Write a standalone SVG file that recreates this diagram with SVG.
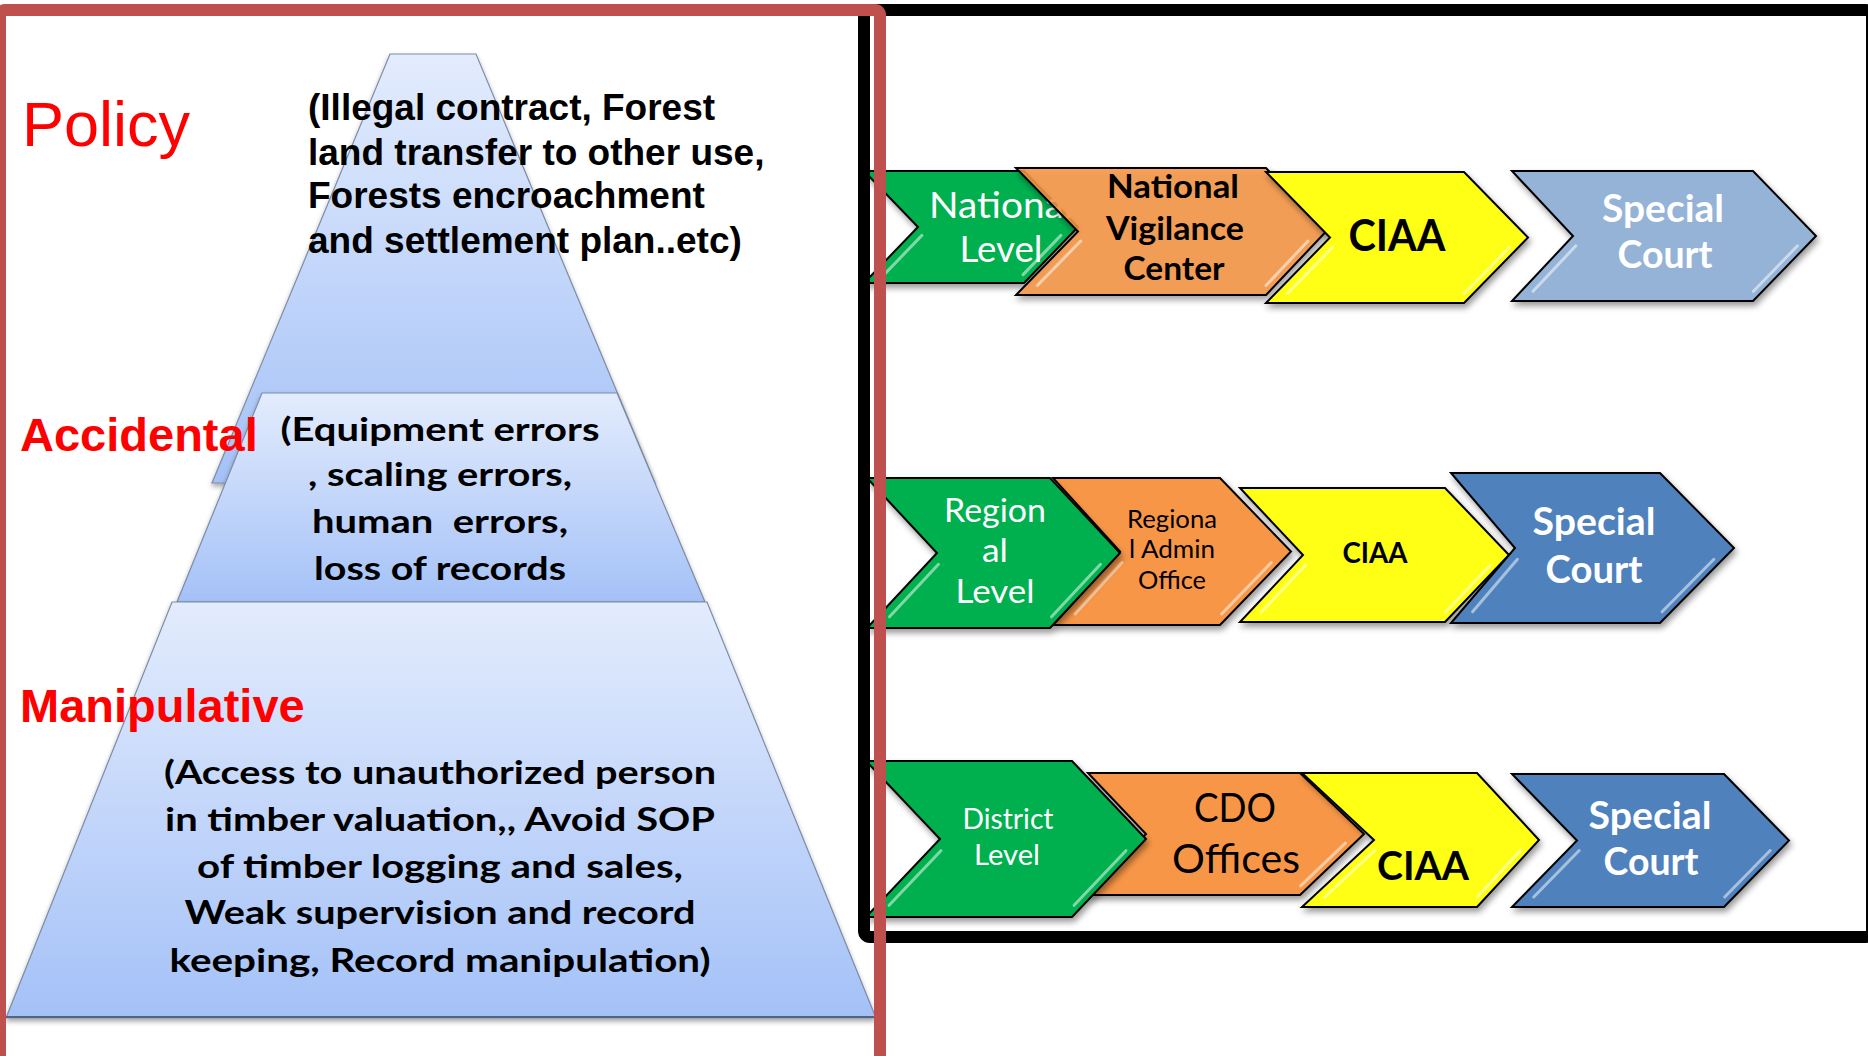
<svg xmlns="http://www.w3.org/2000/svg" width="1868" height="1056" viewBox="0 0 1868 1056">
<defs>
<linearGradient id="pg" x1="0" y1="0" x2="0" y2="1"><stop offset="0" stop-color="#e3ecfd"/><stop offset="1" stop-color="#a4c1f7"/></linearGradient>
<filter id="psh" x="-5%" y="-5%" width="110%" height="112%"><feDropShadow dx="0" dy="3" stdDeviation="2.5" flood-color="#000" flood-opacity="0.35"/></filter>
<filter id="sh" x="-10%" y="-10%" width="125%" height="135%"><feDropShadow dx="2" dy="4" stdDeviation="3" flood-color="#000" flood-opacity="0.4"/></filter>
<linearGradient id="gloss" x1="0" y1="0" x2="0" y2="1"><stop offset="0" stop-color="#fff" stop-opacity="0.18"/><stop offset="0.5" stop-color="#fff" stop-opacity="0"/></linearGradient>
</defs>
<style>
.tier{fill:url(#pg);stroke:#7d8ca6;stroke-width:1.2;filter:url(#psh)}
.chev{stroke:#000;stroke-width:2;stroke-linejoin:miter;filter:url(#sh)}
.g{fill:#00b050}.o{fill:#f79646}.o1{fill:#f79646;fill-opacity:0.86}.y{fill:#ffff14}.b1{fill:#95b3d7}.b2{fill:#4f81bd}
.hl{stroke:#fff;stroke-opacity:0.5;stroke-width:3;fill:none;stroke-linecap:round}
.red{fill:#ff0000;font-family:"Liberation Sans",Arial,sans-serif}
.ar{font-family:"Liberation Sans",Arial,sans-serif;font-weight:bold;font-size:37px;fill:#000}
.cb{font-family:Lato,"Open Sans",sans-serif;font-weight:bold;text-anchor:middle}
.cr{font-family:Lato,"Open Sans",sans-serif;font-weight:normal;text-anchor:middle}
.w{fill:#fff}.k{fill:#000}
</style>

<g id="pyramid">
<g id="tier-policy">
<polygon class="tier" points="390,54 476,54 655,483 212,483"/>
</g>
<g id="tier-accidental">
<polygon class="tier" points="262,393 617,393 705,602 177,602"/>
</g>
<g id="tier-manipulative">
<polygon class="tier" points="172,602 707,602 876,1018 6,1018"/>
<line x1="6" y1="1017" x2="876" y2="1017" stroke="#55657f" stroke-width="2"/>
</g>
</g>

<g id="label-policy">
<text class="red" x="22" y="146" font-size="63">Policy</text>
<text class="ar" x="308" y="120">(Illegal contract, Forest</text>
<text class="ar" x="308" y="165">land transfer to other use,</text>
<text class="ar" x="308" y="208">Forests encroachment</text>
<text class="ar" x="308" y="253">and settlement plan..etc)</text>
</g>
<g id="label-accidental">
<text class="red" x="20" y="451" font-size="47" font-weight="bold">Accidental</text>
<text class="cb k" x="440" y="441" font-size="33" textLength="319" lengthAdjust="spacingAndGlyphs">(Equipment errors</text>
<text class="cb k" x="440" y="486" font-size="33" textLength="264" lengthAdjust="spacingAndGlyphs">, scaling errors,</text>
<text class="cb k" x="440" y="533" font-size="33" textLength="256" lengthAdjust="spacingAndGlyphs" xml:space="preserve">human  errors,</text>
<text class="cb k" x="440" y="580" font-size="33" textLength="252" lengthAdjust="spacingAndGlyphs">loss of records</text>
</g>
<g id="label-manipulative">
<text class="red" x="20" y="722" font-size="47" font-weight="bold">Manipulative</text>
<text class="cb k" x="440" y="784" font-size="33" textLength="552" lengthAdjust="spacingAndGlyphs">(Access to unauthorized person</text>
<text class="cb k" x="440" y="831" font-size="33" textLength="550" lengthAdjust="spacingAndGlyphs">in timber valuation,, Avoid SOP</text>
<text class="cb k" x="440" y="878" font-size="33" textLength="486" lengthAdjust="spacingAndGlyphs">of timber logging and sales,</text>
<text class="cb k" x="440" y="924" font-size="33" textLength="511" lengthAdjust="spacingAndGlyphs">Weak supervision and record</text>
<text class="cb k" x="440" y="972" font-size="33" textLength="541" lengthAdjust="spacingAndGlyphs">keeping, Record manipulation)</text>
</g>

<g id="row-national">
<g id="national-level">
<polygon class="chev g" points="864,171 1024,171 1078,227 1024,283 864,283 918,227"/>
<line class="hl" x1="921.9" y1="235.4" x2="884.1" y2="274.6"/><line class="hl" x1="1060.9" y1="235.4" x2="1023.1" y2="274.6"/>
<text class="cr w" x="1001" y="218" font-size="36" textLength="144" lengthAdjust="spacingAndGlyphs">National</text>
<text class="cr w" x="1001" y="262" font-size="36" textLength="83" lengthAdjust="spacingAndGlyphs">Level</text>
</g>
<g id="national-vigilance-center">
<polygon class="chev o1" points="1016,168 1266,168 1326,231.5 1266,295 1016,295 1078,231.5"/>
<line class="hl" x1="1080.7" y1="241" x2="1037.3" y2="285.5"/><line class="hl" x1="1308" y1="241" x2="1266" y2="285.5"/>
<text class="cb k" x="1173" y="198" font-size="33" textLength="132" lengthAdjust="spacingAndGlyphs">National</text>
<text class="cb k" x="1175" y="240" font-size="33" textLength="138" lengthAdjust="spacingAndGlyphs">Vigilance</text>
<text class="cb k" x="1174" y="280" font-size="33" textLength="101" lengthAdjust="spacingAndGlyphs">Center</text>
</g>
<g id="ciaa-1">
<polygon class="chev y" points="1266,172 1464,172 1528,237.5 1464,303 1266,303 1330,237.5"/>
<line class="hl" x1="1332.4" y1="247.3" x2="1287.6" y2="293.2"/><line class="hl" x1="1509.4" y1="247.3" x2="1464.6" y2="293.2"/>
<text class="cb k" x="1397" y="251" font-size="43" textLength="97" lengthAdjust="spacingAndGlyphs">CIAA</text>
</g>
<g id="special-court-1">
<polygon class="chev b1" points="1512,171 1753,171 1816,236 1753,301 1512,301 1573,236"/>
<line class="hl" x1="1575.8" y1="245.8" x2="1533.1" y2="291.3"/><line class="hl" x1="1797.5" y1="245.8" x2="1753.4" y2="291.3"/>
<text class="cb w" x="1663" y="222" font-size="38" textLength="122" lengthAdjust="spacingAndGlyphs">Special</text>
<text class="cb w" x="1665" y="268" font-size="38" textLength="95" lengthAdjust="spacingAndGlyphs">Court</text>
</g>
</g>

<g id="row-regional">
<g id="regional-admin-office">
<polygon class="chev o" points="1053,478 1220,478 1291,551.5 1220,625 1053,625 1120,551.5"/>
<line class="hl" x1="1122" y1="562.5" x2="1075" y2="614"/><line class="hl" x1="1271.3" y1="562.5" x2="1221.6" y2="614"/>
<text class="cr k" x="1172" y="528" font-size="25" textLength="90" lengthAdjust="spacingAndGlyphs">Regiona</text>
<text class="cr k" x="1172" y="558" font-size="25" textLength="86" lengthAdjust="spacingAndGlyphs">l Admin</text>
<text class="cr k" x="1172" y="589" font-size="25" textLength="68" lengthAdjust="spacingAndGlyphs">Office</text>
</g>
<g id="regional-level">
<polygon class="chev g" points="867,478 1050,478 1120,553 1050,628 867,628 937,553"/>
<line class="hl" x1="938.5" y1="564.3" x2="889.5" y2="616.8"/><line class="hl" x1="1100.5" y1="564.3" x2="1051.5" y2="616.8"/>
<text class="cr w" x="995" y="522" font-size="33" textLength="102" lengthAdjust="spacingAndGlyphs">Region</text>
<text class="cr w" x="995" y="562" font-size="33" textLength="26" lengthAdjust="spacingAndGlyphs">al</text>
<text class="cr w" x="995" y="603" font-size="33" textLength="79" lengthAdjust="spacingAndGlyphs">Level</text>
</g>
<g id="ciaa-2">
<polygon class="chev y" points="1240,488 1445,488 1509,555 1445,622 1240,622 1303,555"/>
<line class="hl" x1="1305.5" y1="565" x2="1261.4" y2="612"/><line class="hl" x1="1490.4" y1="565" x2="1445.6" y2="612"/>
<text class="cb k" x="1375" y="563" font-size="29" textLength="65" lengthAdjust="spacingAndGlyphs">CIAA</text>
</g>
<g id="special-court-2">
<polygon class="chev b2" points="1451,473 1660,473 1734,548 1660,623 1451,623 1515,548"/>
<line class="hl" x1="1517.4" y1="559.3" x2="1472.6" y2="611.8"/><line class="hl" x1="1713.9" y1="559.3" x2="1662.1" y2="611.8"/>
<text class="cb w" x="1594" y="535" font-size="38" textLength="123" lengthAdjust="spacingAndGlyphs">Special</text>
<text class="cb w" x="1594" y="583" font-size="38" textLength="97" lengthAdjust="spacingAndGlyphs">Court</text>
</g>
</g>

<g id="row-district">
<g id="cdo-offices">
<polygon class="chev o" points="1088,773 1300,773 1364,834 1300,895 1088,895 1146,834"/>
<line class="hl" x1="1345.4" y1="843.2" x2="1300.6" y2="885.9"/>
<text class="cr k" x="1235" y="822" font-size="41" textLength="82" lengthAdjust="spacingAndGlyphs">CDO</text>
<text class="cr k" x="1236" y="873" font-size="41" textLength="128" lengthAdjust="spacingAndGlyphs">Offices</text>
</g>
<g id="district-level">
<polygon class="chev g" points="866,761 1072,761 1146,839 1072,917 866,917 940,839"/>
<line class="hl" x1="940.9" y1="850.7" x2="889.1" y2="905.3"/><line class="hl" x1="1125.9" y1="850.7" x2="1074.1" y2="905.3"/>
<text class="cr w" x="1008" y="829" font-size="28" textLength="91" lengthAdjust="spacingAndGlyphs">District</text>
<text class="cr w" x="1007" y="865" font-size="28" textLength="66" lengthAdjust="spacingAndGlyphs">Level</text>
</g>
<g id="ciaa-3">
<polygon class="chev y" points="1302,773 1477,773 1539,840 1477,907 1302,907 1374,840"/>
<line class="hl" x1="1375.2" y1="850" x2="1324.8" y2="897"/><line class="hl" x1="1520.7" y1="850" x2="1477.3" y2="897"/>
<text class="cb k" x="1423" y="880" font-size="41" textLength="92" lengthAdjust="spacingAndGlyphs">CIAA</text>
</g>
<g id="special-court-3">
<polygon class="chev b2" points="1512,774 1724,774 1789,840.5 1724,907 1512,907 1577,840.5"/>
<line class="hl" x1="1579.2" y1="850.5" x2="1533.7" y2="897"/><line class="hl" x1="1770.2" y1="850.5" x2="1724.7" y2="897"/>
<text class="cb w" x="1650" y="829" font-size="38" textLength="123" lengthAdjust="spacingAndGlyphs">Special</text>
<text class="cb w" x="1651" y="875" font-size="38" textLength="95" lengthAdjust="spacingAndGlyphs">Court</text>
</g>
</g>

<g id="connectors"/>

<g id="frames">
<rect x="864" y="10" width="1008" height="927" rx="6" fill="none" stroke="#000" stroke-width="12"/>
<rect x="0" y="10" width="880" height="1080" rx="5" fill="none" stroke="#c0504d" stroke-width="12"/>
</g>
</svg>
